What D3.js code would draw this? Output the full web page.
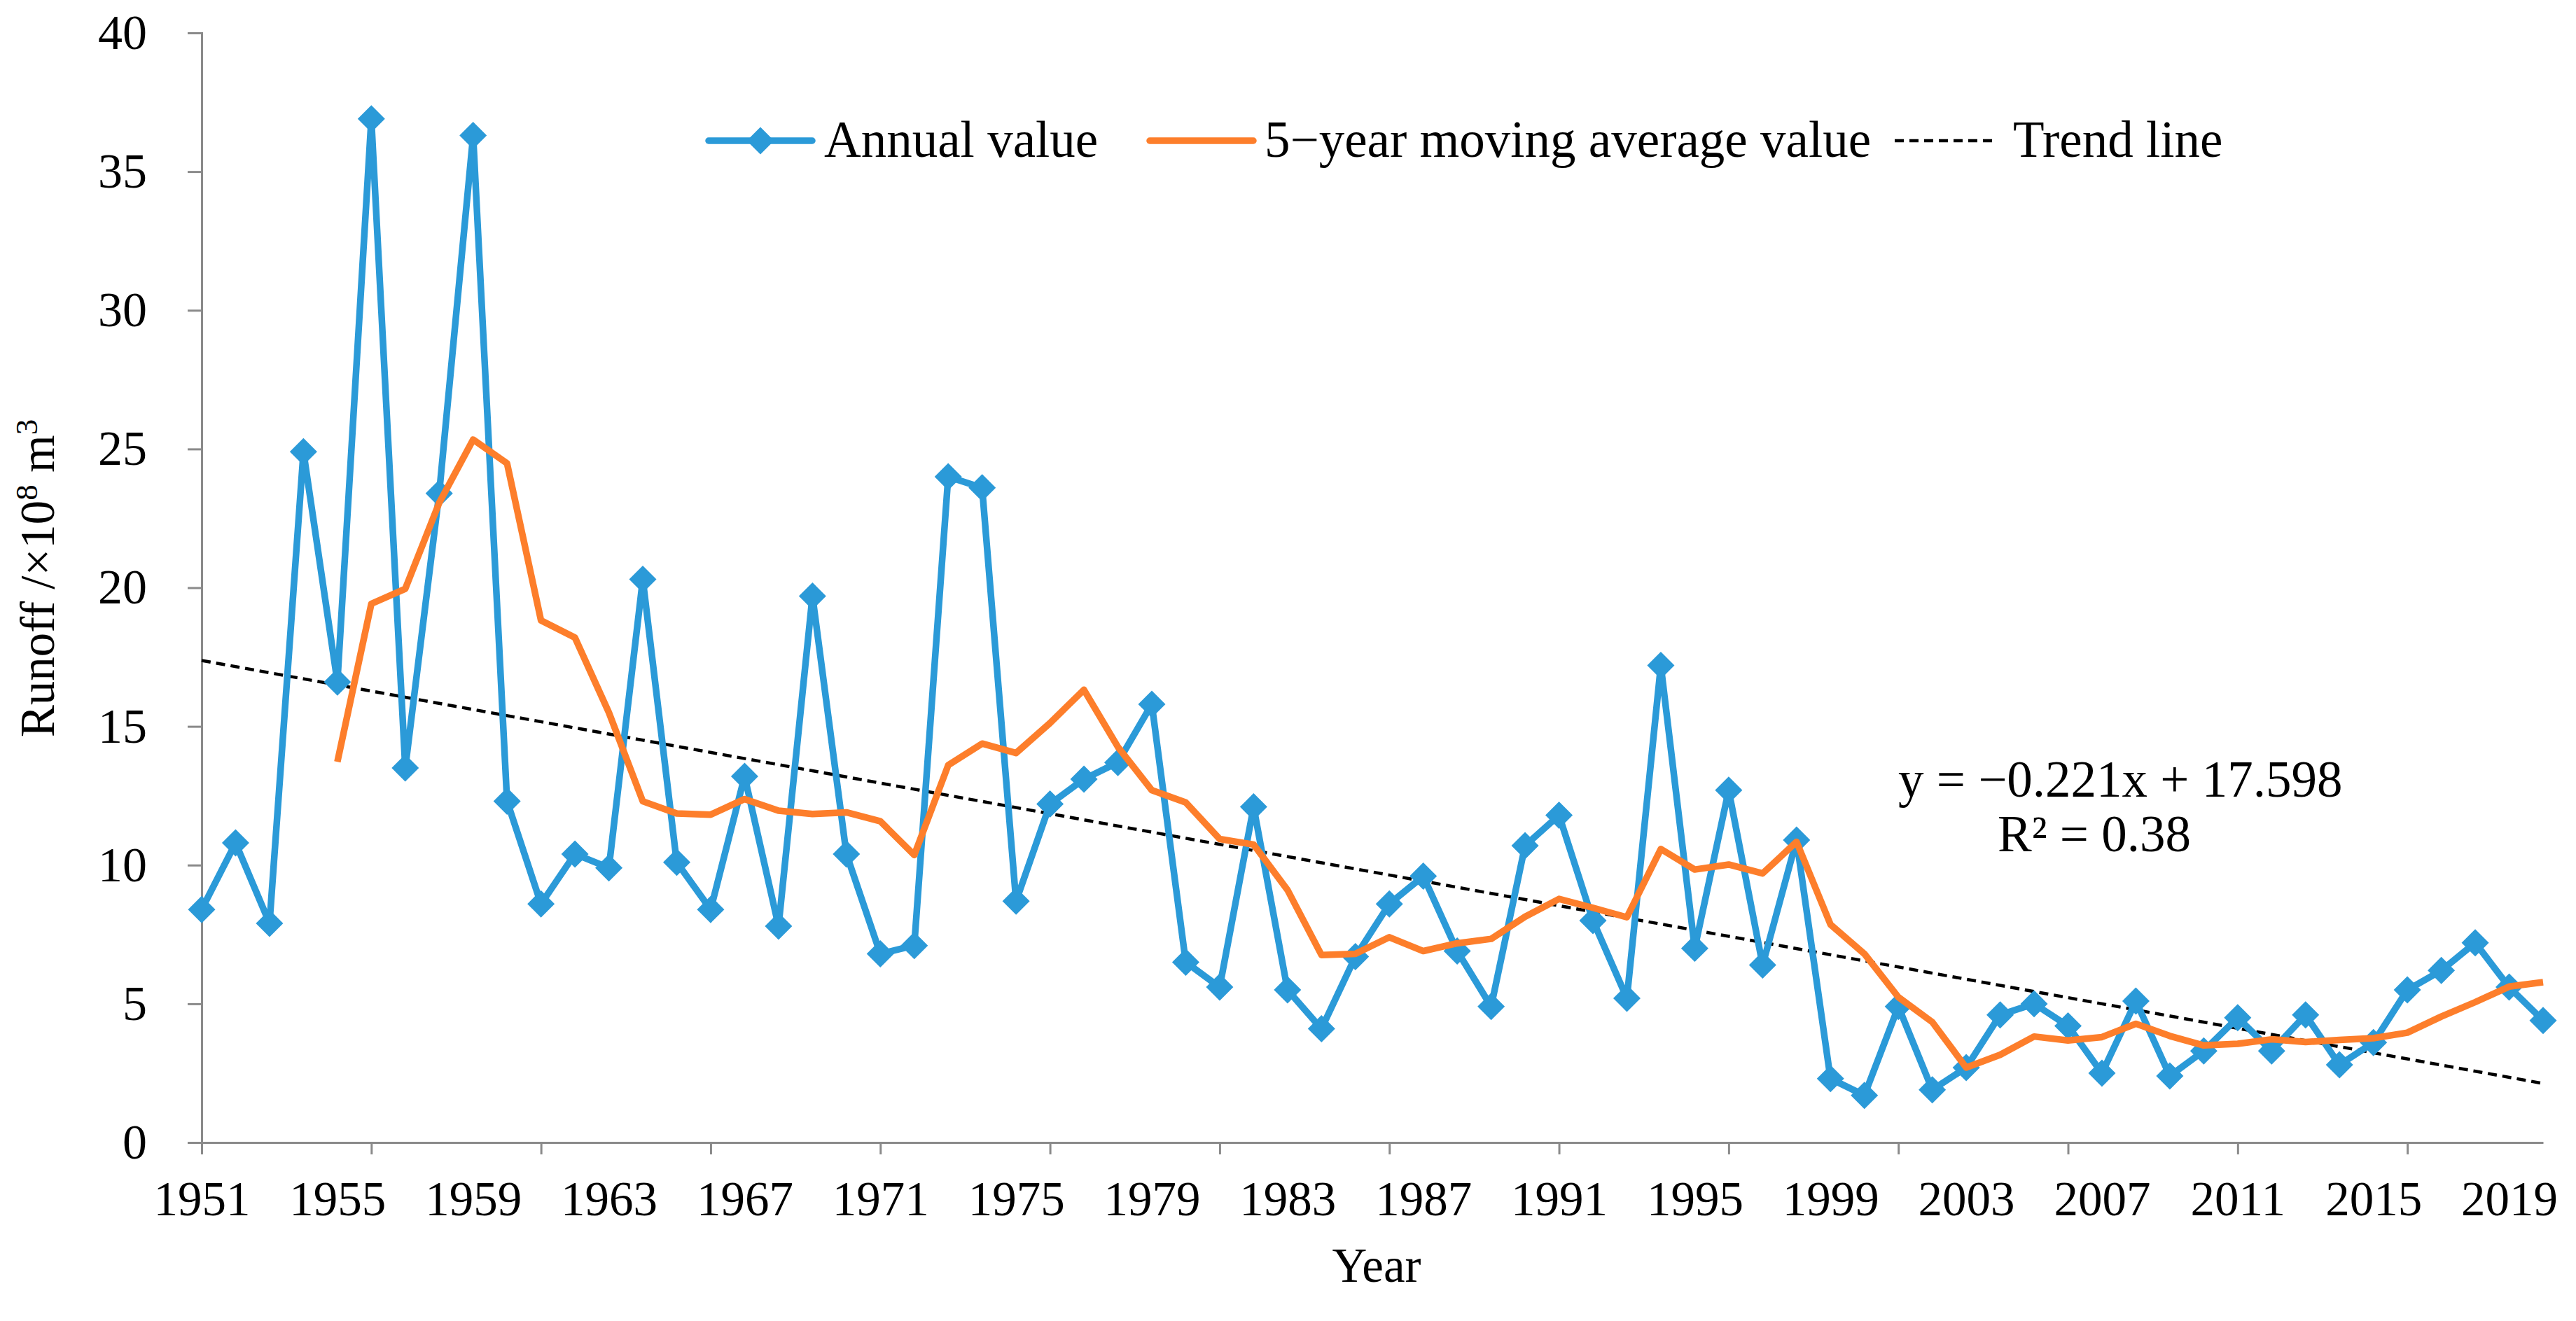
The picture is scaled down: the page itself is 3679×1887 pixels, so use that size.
<!DOCTYPE html>
<html>
<head>
<meta charset="utf-8">
<script src="https://cdn.jsdelivr.net/npm/d3@7"></script>
<style>
  body { margin: 0; background: #fff; }
  text { font-family: "Liberation Serif", "Times New Roman", serif; fill: #000; }
</style>
</head>
<body>
<svg id="chart" width="3679" height="1887"></svg>
<script>
// years on the category axis
const years = d3.range(1951, 2021);

// annual runoff (x10^8 m3), 1951..2020
const annual = [
  8.4, 10.8, 7.9, 24.9, 16.6, 36.9, 13.5, 23.4, 36.3, 12.3,
  8.6, 10.4, 9.9, 20.3, 10.1, 8.4, 13.2, 7.8, 19.7, 10.4,
  6.8, 7.1, 24.0, 23.6, 8.7, 12.2, 13.1, 13.7, 15.8, 6.5,
  5.6, 12.1, 5.5, 4.1, 6.7, 8.6, 9.6, 6.9, 4.9, 10.7,
  11.8, 8.0, 5.2, 17.2, 7.0, 12.7, 6.4, 10.9, 2.3, 1.7,
  4.9, 1.9, 2.7, 4.6, 5.0, 4.2, 2.5, 5.1, 2.4, 3.3,
  4.5, 3.3, 4.6, 2.8, 3.6, 5.5, 6.2, 7.2, 5.6, 4.4
];

// 5-year moving average, 1955..2020
const maStart = 1955;
const movingAvg = [
  13.72, 19.42, 19.96, 23.06, 25.34, 24.48, 18.82, 18.20, 15.50, 12.30,
  11.86, 11.82, 12.38, 11.96, 11.84, 11.90, 11.58, 10.36, 13.60, 14.38,
  14.04, 15.12, 16.32, 14.26, 12.70, 12.26, 10.94, 10.74, 9.10, 6.76,
  6.80, 7.40, 6.90, 7.18, 7.34, 8.14, 8.78, 8.46, 8.12, 10.58,
  9.84, 10.02, 9.70, 10.84, 7.86, 6.80, 5.24, 4.34, 2.70, 3.16,
  3.82, 3.68, 3.80, 4.28, 3.84, 3.50, 3.56, 3.72, 3.62, 3.70,
  3.76, 3.96, 4.54, 5.06, 5.62, 5.78
];

// linear trend as printed on the chart (x = 1 for 1951)
const trendSlope = -0.221;
const trendIntercept = 17.598;

const yTicks = [0, 5, 10, 15, 20, 25, 30, 35, 40];
const xTickYears = d3.range(1951, 2020, 5);
const xLabelYears = d3.range(1951, 2020, 4);

const legendItems = ["Annual value", "5\u2212year moving average value", "Trend line"];

const BLUE = "#2b9ad8";
const ORANGE = "#fd7e2b";
const AXIS = "#8a8a8a";

const PLOT = { left: 288, right: 3632, top: 47, bottom: 1632 };

const svg = d3.select("#chart");

const x = d3.scaleLinear().domain([1951, 2020]).range([PLOT.left, PLOT.right]);
const y = d3.scaleLinear().domain([0, 40]).range([PLOT.bottom, PLOT.top]);

// square diamond marker (Excel style)
const diamond = {
  draw(ctx, size) {
    const r = Math.sqrt(size / 2);
    ctx.moveTo(0, -r);
    ctx.lineTo(r, 0);
    ctx.lineTo(0, r);
    ctx.lineTo(-r, 0);
    ctx.closePath();
  }
};
const MARKER_SIZE = 760;

// y axis
const gy = svg.append("g")
  .attr("transform", `translate(${PLOT.left},0)`)
  .call(d3.axisLeft(y).tickValues(yTicks).tickSize(20).tickPadding(58).tickFormat(d3.format("d")));
gy.selectAll("path, line").attr("stroke", AXIS).attr("stroke-width", 3);
gy.selectAll("text").style("font-size", "70px").attr("font-family", null);

// x axis: ticks every 5 years
const gx = svg.append("g")
  .attr("transform", `translate(0,${PLOT.bottom})`)
  .call(d3.axisBottom(x).tickValues(xTickYears).tickSize(17).tickSizeOuter(0).tickFormat(""));
gx.selectAll("path, line").attr("stroke", AXIS).attr("stroke-width", 3);

// x labels: every 4 years
const gxl = svg.append("g")
  .attr("transform", `translate(0,${PLOT.bottom})`)
  .call(d3.axisBottom(x).tickValues(xLabelYears).tickSize(0).tickPadding(55).tickFormat(d3.format("d")));
gxl.select(".domain").remove();
gxl.selectAll("text").style("font-size", "69px").attr("font-family", null);

// axis titles
svg.append("text")
  .attr("x", (PLOT.left + PLOT.right) / 2 + 6)
  .attr("y", 1831)
  .attr("text-anchor", "middle")
  .style("font-size", "69px")
  .text("Year");

const yt = svg.append("text")
  .attr("transform", "translate(77,826) rotate(-90)")
  .attr("text-anchor", "middle")
  .style("font-size", "69px");
yt.append("tspan").text("Runoff /\u00d710");
yt.append("tspan").attr("dy", -24).style("font-size", "45px").text("8");
yt.append("tspan").attr("dy", 24).text(" m");
yt.append("tspan").attr("dy", -24).style("font-size", "45px").text("3");

// trend line
const trendData = [1951, 2020].map(yr => ({ yr, v: trendSlope * (yr - 1950) + trendIntercept }));
svg.append("path")
  .datum(trendData)
  .attr("fill", "none")
  .attr("stroke", "#000")
  .attr("stroke-width", 4.5)
  .attr("stroke-dasharray", "13,8")
  .attr("d", d3.line().x(d => x(d.yr)).y(d => y(d.v)));

// annual series
const annualData = years.map((yr, i) => ({ yr, v: annual[i] }));
svg.append("path")
  .datum(annualData)
  .attr("fill", "none")
  .attr("stroke", BLUE)
  .attr("stroke-width", 9.5)
  .attr("stroke-linejoin", "round")
  .attr("d", d3.line().x(d => x(d.yr)).y(d => y(d.v)));

svg.append("g").selectAll("path")
  .data(annualData)
  .enter().append("path")
  .attr("transform", d => `translate(${x(d.yr)},${y(d.v)})`)
  .attr("fill", BLUE)
  .attr("d", d3.symbol().type(diamond).size(MARKER_SIZE));

// moving average
const maData = movingAvg.map((v, i) => ({ yr: maStart + i, v }));
svg.append("path")
  .datum(maData)
  .attr("fill", "none")
  .attr("stroke", ORANGE)
  .attr("stroke-width", 9.5)
  .attr("stroke-linejoin", "round")
  .attr("d", d3.line().x(d => x(d.yr)).y(d => y(d.v)));

// legend
const legendY = 201;
const legendPos = [
  { x0: 1012, x1: 1160, tx: 1177 },
  { x0: 1642, x1: 1790, tx: 1806 },
  { x0: 2706, x1: 2853, tx: 2875 }
];
const legend = svg.append("g");
legendItems.forEach((label, i) => {
  const p = legendPos[i];
  const ln = legend.append("line")
    .attr("x1", p.x0).attr("x2", p.x1)
    .attr("y1", legendY).attr("y2", legendY);
  if (i === 0) {
    ln.attr("stroke", BLUE).attr("stroke-width", 9.5).attr("stroke-linecap", "round");
    legend.append("path")
      .attr("transform", `translate(${(p.x0 + p.x1) / 2},${legendY})`)
      .attr("fill", BLUE)
      .attr("d", d3.symbol().type(diamond).size(MARKER_SIZE));
  } else if (i === 1) {
    ln.attr("stroke", ORANGE).attr("stroke-width", 9.5).attr("stroke-linecap", "round");
  } else {
    ln.attr("stroke", "#000").attr("stroke-width", 4.5).attr("stroke-dasharray", "13,8");
  }
  legend.append("text")
    .attr("x", p.tx)
    .attr("y", legendY + 23)
    .style("font-size", "73px")
    .text(label);
});

// equation
svg.append("text")
  .attr("x", 2711).attr("y", 1138)
  .style("font-size", "73px")
  .text("y = \u22120.221x + 17.598");
svg.append("text")
  .attr("x", 2853).attr("y", 1216)
  .style("font-size", "73px")
  .text("R\u00b2 = 0.38");
</script>
</body>
</html>
